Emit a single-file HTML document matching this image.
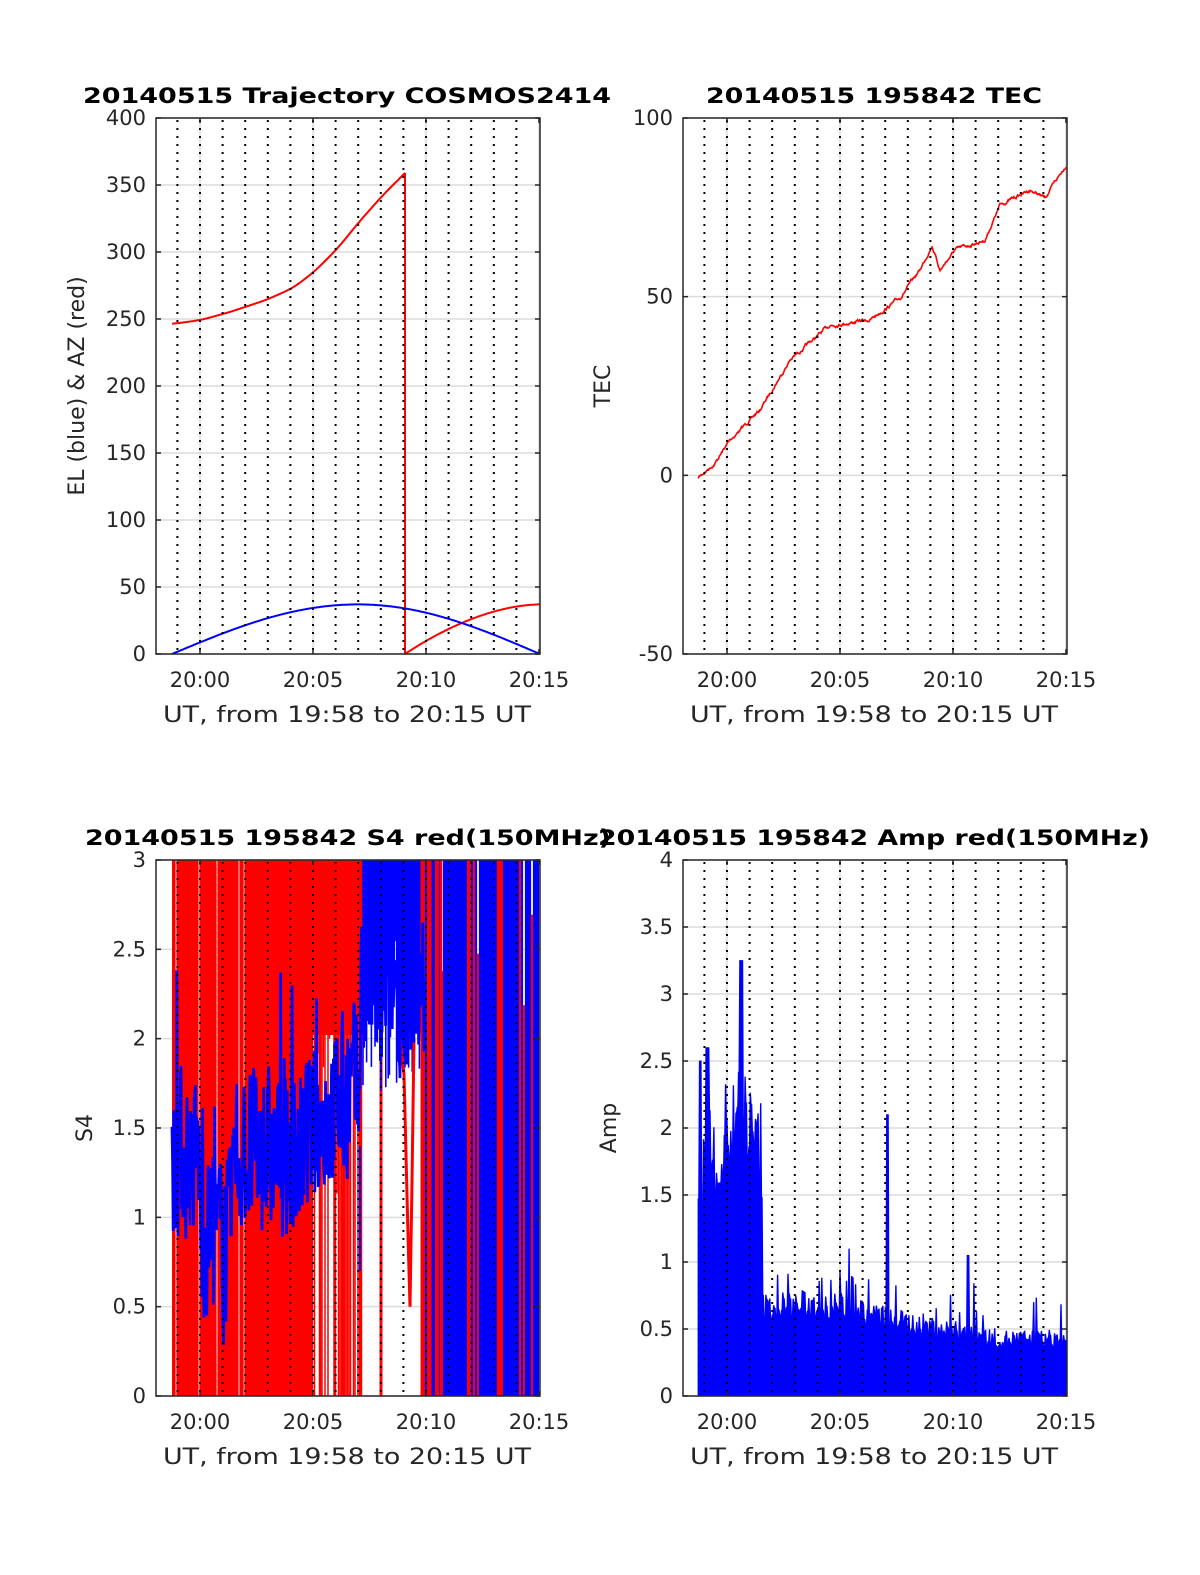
<!DOCTYPE html>
<html><head><meta charset="utf-8"><style>
body{margin:0;background:#fff;}
svg{display:block;font-family:"DejaVu Sans","Liberation Sans",sans-serif;}
.t{font-weight:bold;font-size:21px;fill:#000;}
.k{font-size:21px;fill:#262626;}
.l{font-size:22px;fill:#262626;}
</style></head><body>
<svg id="s" width="1200" height="1575" xmlns="http://www.w3.org/2000/svg">
<rect width="1200" height="1575" fill="#fff"/>
<g id="g"></g>
<text class="t" x="83" y="103" textLength="528" lengthAdjust="spacingAndGlyphs">20140515 Trajectory COSMOS2414</text>
<text class="t" x="706" y="103" textLength="336" lengthAdjust="spacingAndGlyphs">20140515 195842 TEC</text>
<text class="t" x="85" y="845" textLength="526" lengthAdjust="spacingAndGlyphs">20140515 195842 S4 red(150MHz)</text>
<text class="t" x="598" y="845" textLength="552" lengthAdjust="spacingAndGlyphs">20140515 195842 Amp red(150MHz)</text>
<text class="l" x="163" y="722" textLength="368" lengthAdjust="spacingAndGlyphs">UT, from 19:58 to 20:15 UT</text>
<text class="l" x="690" y="722" textLength="368" lengthAdjust="spacingAndGlyphs">UT, from 19:58 to 20:15 UT</text>
<text class="l" x="163" y="1464" textLength="368" lengthAdjust="spacingAndGlyphs">UT, from 19:58 to 20:15 UT</text>
<text class="l" x="690" y="1464" textLength="368" lengthAdjust="spacingAndGlyphs">UT, from 19:58 to 20:15 UT</text>
<text class="l" transform="translate(84,386) rotate(-90)" text-anchor="middle">EL (blue) &amp; AZ (red)</text>
<text class="l" transform="translate(610,386) rotate(-90)" text-anchor="middle">TEC</text>
<text class="l" transform="translate(92,1128) rotate(-90)" text-anchor="middle">S4</text>
<text class="l" transform="translate(616,1128) rotate(-90)" text-anchor="middle">Amp</text>
<g id="top"></g>
</svg>
<script>
var NS="http://www.w3.org/2000/svg",G=document.getElementById("g"),TOP=document.getElementById("top");
function el(n,a,txt,par){var e=document.createElementNS(NS,n);for(var k in a)e.setAttribute(k,a[k]);if(txt!=null)e.textContent=txt;(par||G).appendChild(e);return e;}
var seed=7;function rnd(){seed=(seed*16807)%2147483647;return (seed-1)/2147483646;}
var W=384;
function axes(x0,y0,y1,ymin,ymax,step,fmt){
  var h=y1-y0;
  for(var v=ymin;v<=ymax+1e-9;v+=step){var y=y1-(v-ymin)/(ymax-ymin)*h;
    el("line",{x1:x0,x2:x0+W,y1:y,y2:y,stroke:"#dcdcdc","stroke-width":1.5});
    el("line",{x1:x0,x2:x0+5,y1:y,y2:y,stroke:"#262626","stroke-width":1.5},null,TOP);
    el("line",{x1:x0+W-5,x2:x0+W,y1:y,y2:y,stroke:"#262626","stroke-width":1.5},null,TOP);
    el("text",{x:x0-10,y:y+7,"text-anchor":"end","class":"k"},fmt(v),TOP);}
  for(var i=0;i<4;i++){var x=x0+44+i*5*22.6;
    el("line",{x1:x,x2:x,y1:y0,y2:y1,stroke:"#dcdcdc","stroke-width":1.5});}
  for(var m=-1;m<=14;m++){var x=x0+44+m*22.6;
    el("line",{x1:x,x2:x,y1:y0+2,y2:y1,stroke:"#000","stroke-dasharray":"2,6","stroke-width":2},null,TOP);}
  var labs=["20:00","20:05","20:10","20:15"];
  for(var i=0;i<4;i++){var x=x0+44+i*5*22.6;
    el("line",{x1:x,x2:x,y1:y1,y2:y1-5,stroke:"#262626","stroke-width":1.5},null,TOP);
    el("line",{x1:x,x2:x,y1:y0,y2:y0+5,stroke:"#262626","stroke-width":1.5},null,TOP);
    el("text",{x:x,y:y1+33,"text-anchor":"middle","class":"k"},labs[i],TOP);}
  el("rect",{x:x0,y:y0,width:W,height:y1-y0,fill:"none",stroke:"#262626","stroke-width":1.5},null,TOP);
}
function poly(pts,c,w){el("polyline",{points:pts.map(p=>p[0].toFixed(1)+","+p[1].toFixed(1)).join(" "),fill:"none",stroke:c,"stroke-width":w||1.5});}
function interp(k,x){for(var i=1;i<k.length;i++)if(x<=k[i][0]){var a=k[i-1],b=k[i];return a[1]+(b[1]-a[1])*(x-a[0])/(b[0]-a[0]);}return k[k.length-1][1];}
function vr(x,ya,yb,c,w){el("line",{x1:x,x2:x,y1:ya,y2:yb,stroke:c,"stroke-width":w});}
// Plot 1
axes(156,118,654,0,400,50,v=>String(v));
var y1=v=>654-v/400*536;
// smooth AZ: polynomial-like fit
var r=[];for(var x=172;x<=405;x++){var u=(x-172)/233;
 var y=324-5*u-40*u*u-106*u*u*u+0*u; // endpoints 324 -> 173
 // S-shape adjustment near end
 y+= 25*Math.pow(u,6)*0+ -0;
 r.push([x,y]);}
// correct to pass through key points via blend
var ak=[[172,324],[201,320],[230,312],[266,300],[293,288],[314,272],[338,248],[359,222],[383,195],[405,173]];
r=[];for(var x=172;x<=405;x++){var s=0,ws=0;for(var j=-6;j<=6;j++){var w=Math.exp(-j*j/18);s+=w*interp(ak,Math.min(405,Math.max(172,x+j*2)));ws+=w;}var v=s/ws;if(x>398)v=interp(ak,x);r.push([x,v]);}
poly(r,"#f00",2);
poly([[405,173],[405,654]],"#f00",2);
r=[];for(var x=405;x<=540;x++){var u=(x-405)/135;r.push([x,y1(37*(1-Math.pow(1-u,1.8)))]);}poly(r,"#f00",2);
var b=[];for(var x=172;x<=540;x++){var v=x<358?37*Math.sin(Math.PI/2*(x-172)/186):37*Math.cos(Math.PI/2*(x-358)/182);b.push([x,y1(v)]);}
poly(b,"#00f",2);
// Plot 2
axes(683,118,654,-50,100,50,v=>String(v));
var k=[[698,478],[715,463],[730,440],[760,410],[790,360],[830,325],[870,320],[900,298],[920,270],[932,245],[940,270],[955,250],[985,240],[1000,205],[1030,190],[1045,198],[1066,165]];
var p=[],n=0;for(var x=698;x<=1066;x+=0.5){n=n*0.85+(rnd()-0.5)*2;p.push([x,interp(k,x)+n]);}
poly(p,"#f00",1.6);
// Plot 3
axes(156,860,1396,0,3,0.5,v=>String(v));
var y3=v=>1396-Math.max(0,Math.min(3,v))/3*536;
el("rect",{x:172,y:860,width:141,height:536,fill:"#f00"});
[176,199,239,244,217].forEach(x=>vr(x,860,1396,"#fff",0.8));
el("rect",{x:313,y:860,width:50,height:175,fill:"#f00"});
for(var x=313;x<362;x+=1.5){var yb=rnd()<0.45?1396:y3(1+rnd()*1.5);vr(x,860,yb,"#f00",1.5);}
[320,335,343,361].forEach(x=>vr(x,860,1396,"#f00",2.5));
vr(381,860,1396,"#f00",3);
for(var x=363;x<425;x+=1.2){vr(x,860,y3(1.7+rnd()*0.9),"#00f",1.6);}
var rk=[[400,2.0],[404,1.8],[408,0.9],[410,0.5],[412,1.2],[414,2.0]];
r=[];for(var x=400;x<=414;x+=0.5)r.push([x,y3(interp(rk,x))]);poly(r,"#f00",3);
for(var x=422;x<540;x+=2){var c=rnd()<0.68?"#00f":"#f00";var ya=860,yb=1396;if(c=="#f00"&&rnd()<0.5)ya=y3(2.7-rnd()*0.6);vr(x,ya,yb,c,2.2);}
vr(422,860,1396,"#f00",3);vr(430,860,1396,"#f00",3);vr(441,860,1396,"#f00",2.5);vr(474,860,1396,"#f00",2);vr(520,860,1396,"#f00",2);
p=[];n=0;for(var x=172;x<=425;x+=0.6){var base;
 if(x<200)base=1.35;else if(x<232)base=0.88;else if(x<300)base=1.35;else if(x<360)base=1.4+(x-300)/60*0.35;else base=2.3;
 n=n*0.2+(rnd()-0.5)*0.9;var v=base+n;if(rnd()<0.06)v+=(rnd()-0.3)*1.2;
 p.push([x,y3(v)]);}
poly(p,"#00f",2.8);
vr(360,y3(1.4),y3(0.7),"#00f",2);
// Plot 4
axes(683,860,1396,0,4,0.5,v=>String(v));
var y4=v=>1396-v/4*536;
var amk=[[698,1.4],[705,1.9],[720,1.8],[730,2.1],[740,2.3],[750,2.1],[761,1.9],[763,0.7],[800,0.72],[850,0.7],[890,0.6],[930,0.55],[960,0.5],[1000,0.45],[1066,0.45]];
p=[[698,1396]];for(var x=698;x<=1066;x+=1.3){var v=interp(amk,x)*(0.8+rnd()*0.3);
 if(x>762&&rnd()<0.12)v+=0.15+rnd()*0.2;
 if(x<761&&rnd()<0.15)v+=rnd()*0.6;
 if(Math.abs(x-741)<1.5)v=3.25;if(Math.abs(x-887)<1.5)v=2.1;if(Math.abs(x-968)<1.5)v=1.05;if(Math.abs(x-707)<1.5)v=2.6;if(Math.abs(x-700)<1)v=2.5;
 p.push([x,y4(v)]);p.push([x+0.65,y4(v)]);}
p.push([1066,1396]);
el("polygon",{points:p.map(q=>q[0].toFixed(1)+","+q[1].toFixed(1)).join(" "),fill:"#00f",stroke:"#00f","stroke-width":0.8});
</script>
</body></html>
